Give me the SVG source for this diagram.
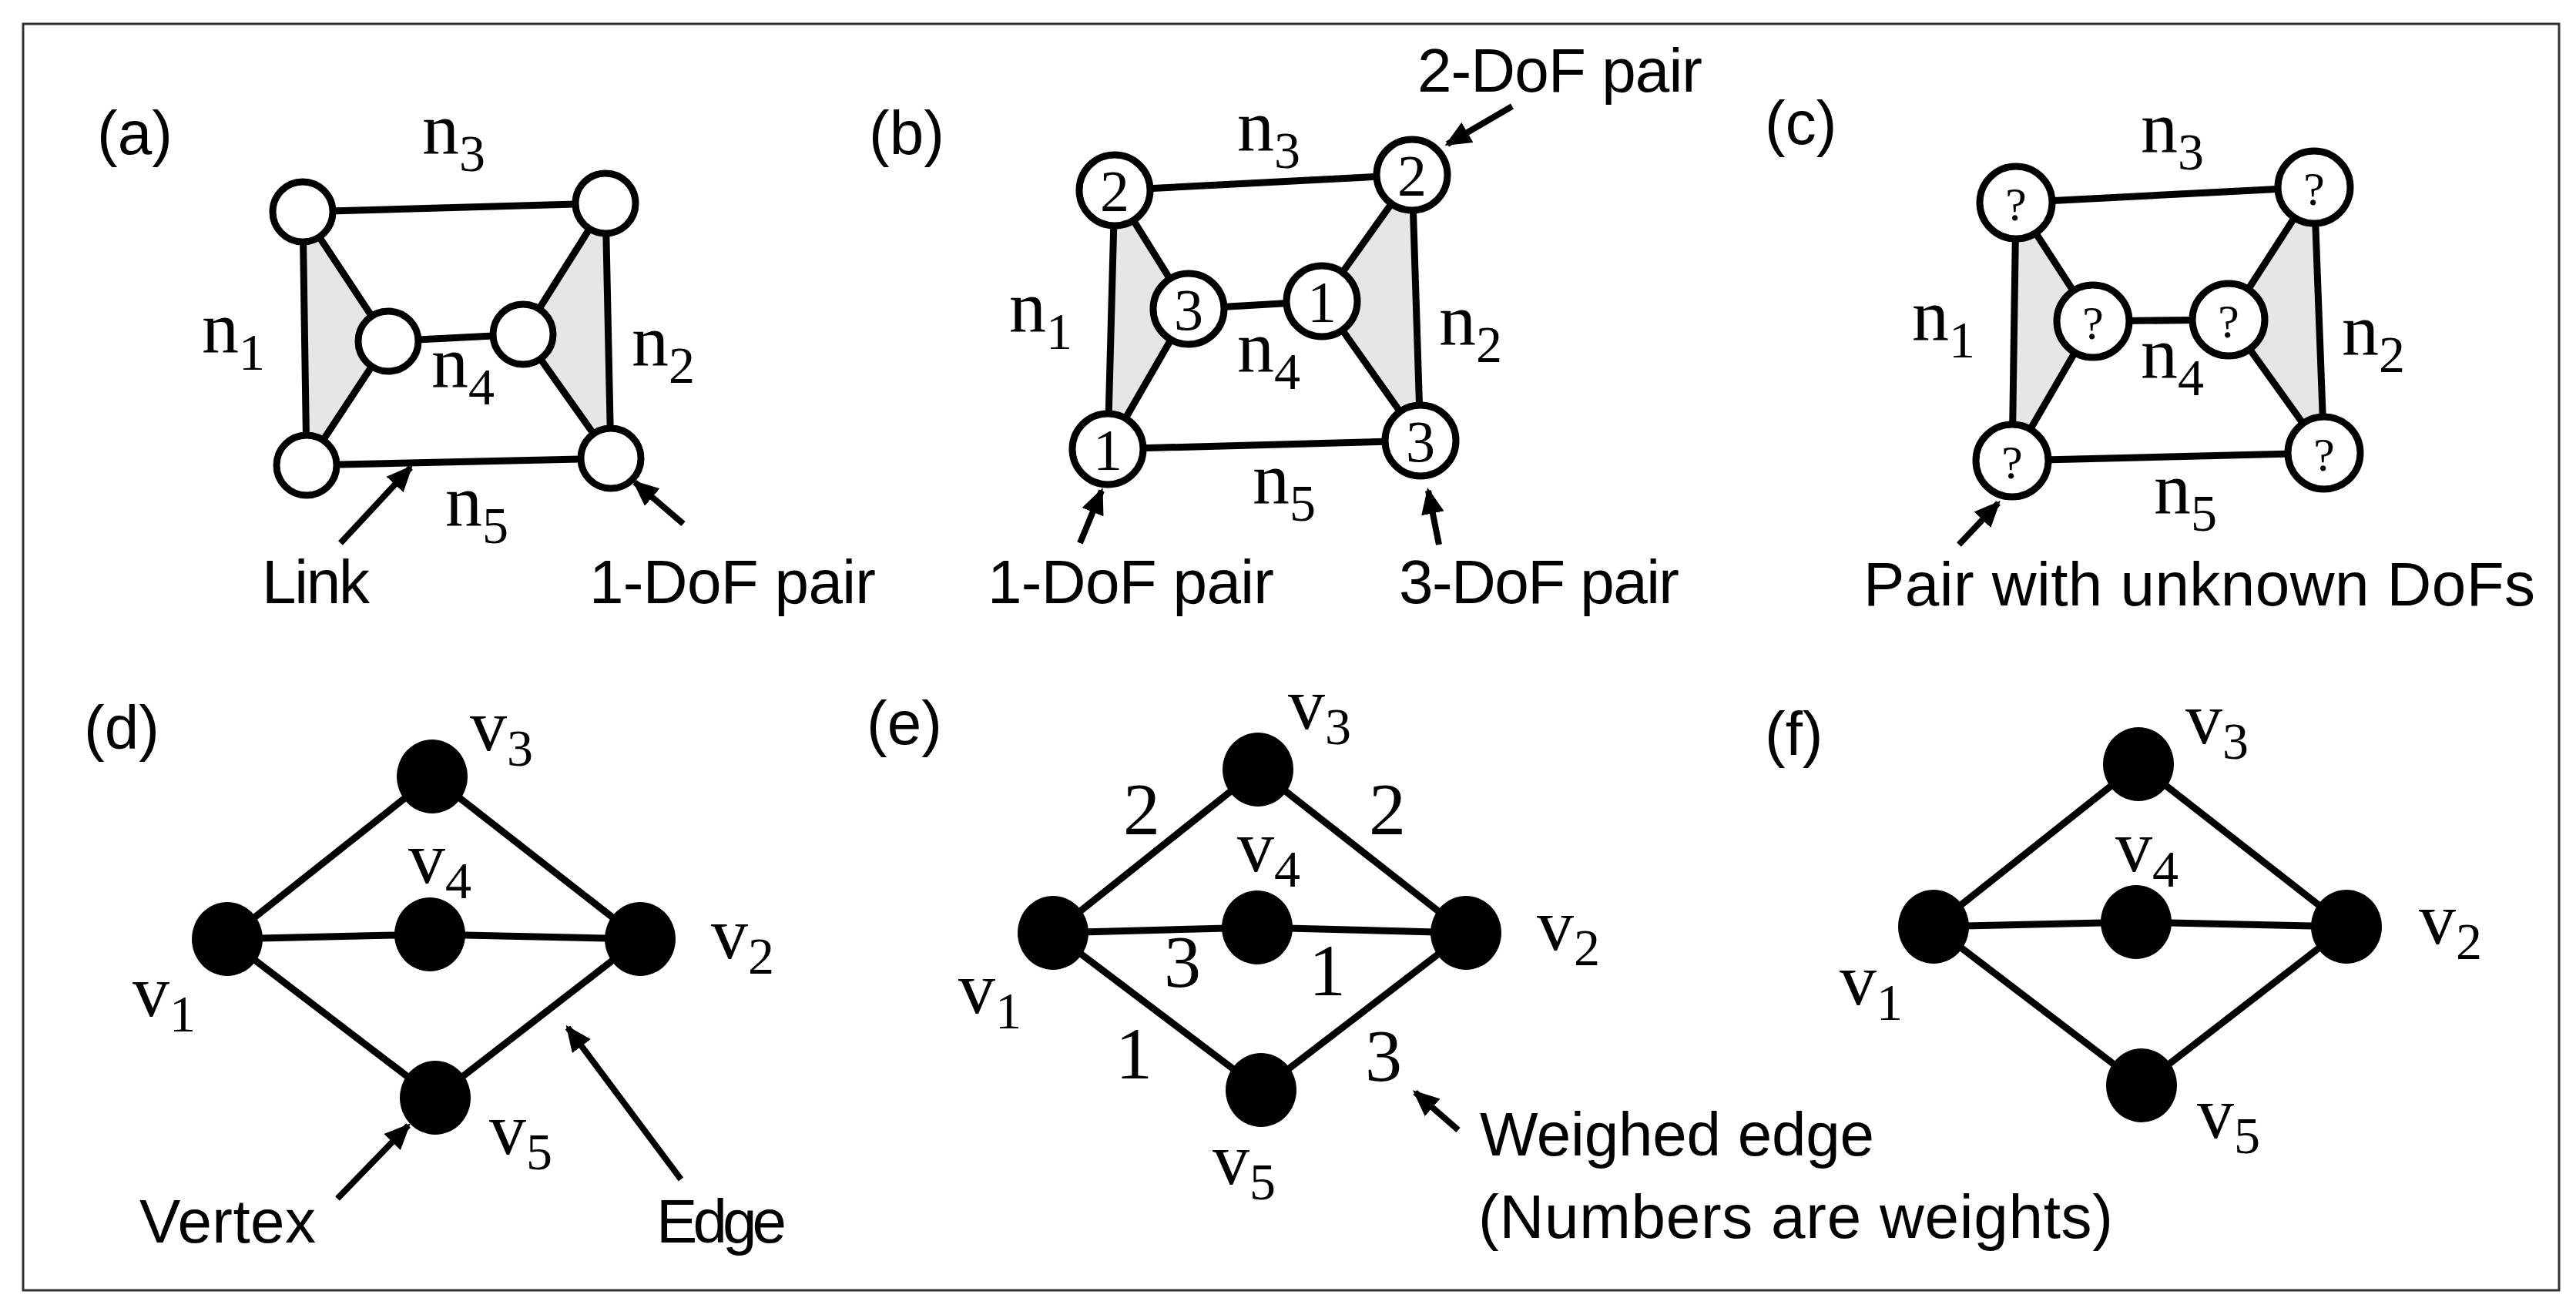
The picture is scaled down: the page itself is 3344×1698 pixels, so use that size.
<svg xmlns="http://www.w3.org/2000/svg" width="3344" height="1698" viewBox="0 0 3344 1698">
<style>
.bg{fill:#fff}
.frame{fill:none;stroke:#333;stroke-width:3}
.ln{stroke:#000;stroke-width:9;fill:none;stroke-linecap:round}
.sh{fill:#e6e6e6;stroke:#000;stroke-width:9;stroke-linejoin:round}
.jn{fill:#fff;stroke:#000;stroke-width:9}
.vx{fill:#000}
.ar{stroke:#000;stroke-width:8;fill:none;marker-end:url(#ah)}
.lab{font-family:"Liberation Sans",Arial,sans-serif;font-size:80px;fill:#000}
.ser{font-family:"Liberation Serif","DejaVu Serif",serif;font-size:96px;fill:#000}
.sub{font-size:68px}
.num{font-family:"Liberation Serif","DejaVu Serif",serif;font-size:76px;fill:#000;text-anchor:middle}
.q{font-size:62px}
.w{font-family:"Liberation Serif","DejaVu Serif",serif;font-size:96px;fill:#000;text-anchor:middle}
</style>
<defs>
<marker id="ah" markerWidth="34" markerHeight="30" refX="30" refY="15" orient="auto" markerUnits="userSpaceOnUse"><path d="M0,0 L34,15 L0,30 Z" fill="#000"/></marker>
</defs>
<rect class="bg" x="0" y="0" width="3344" height="1698"/>
<rect class="frame" x="30" y="31" width="3292" height="1644"/>

<!-- Panel a -->
<g id="panel-a">
<text class="lab" x="126" y="200">(a)</text>
<polygon class="sh" points="393,275 398,604 504,443"/>
<polygon class="sh" points="786,264 793,595 679,434"/>
<line class="ln" x1="393" y1="275" x2="786" y2="264"/>
<line class="ln" x1="398" y1="604" x2="793" y2="595"/>
<line class="ln" x1="504" y1="443" x2="679" y2="434"/>
<g id="a-n1"><circle class="jn" cx="393" cy="275" r="39"/></g>
<g id="a-n2"><circle class="jn" cx="786" cy="264" r="39"/></g>
<g id="a-n3"><circle class="jn" cx="504" cy="443" r="39"/></g>
<g id="a-n4"><circle class="jn" cx="679" cy="434" r="39"/></g>
<g id="a-n5"><circle class="jn" cx="398" cy="604" r="39"/></g>
<g id="a-n6"><circle class="jn" cx="793" cy="595" r="39"/></g>
<text class="ser" x="548" y="200">n<tspan class="sub" dy="22">3</tspan></text>
<text class="ser" x="262" y="458">n<tspan class="sub" dy="22">1</tspan></text>
<text class="ser" x="560" y="503">n<tspan class="sub" dy="22">4</tspan></text>
<text class="ser" x="820" y="475">n<tspan class="sub" dy="22">2</tspan></text>
<text class="ser" x="578" y="683">n<tspan class="sub" dy="22">5</tspan></text>
<text class="lab" x="340" y="783" textLength="140">Link</text>
<text class="lab" x="765" y="783" textLength="372">1-DoF pair</text>
</g>

<!-- Panel b -->
<g id="panel-b">
<text class="lab" x="1128" y="200">(b)</text>
<polygon class="sh" points="1447,247 1438,583 1543,401"/>
<polygon class="sh" points="1833,227 1844,572 1716,391"/>
<line class="ln" x1="1447" y1="247" x2="1833" y2="227"/>
<line class="ln" x1="1438" y1="583" x2="1844" y2="572"/>
<line class="ln" x1="1543" y1="401" x2="1716" y2="391"/>
<g id="b-n1"><circle class="jn" cx="1447" cy="247" r="46"/><text class="num" x="1447" y="274">2</text></g>
<g id="b-n2"><circle class="jn" cx="1833" cy="227" r="46"/><text class="num" x="1833" y="254">2</text></g>
<g id="b-n3"><circle class="jn" cx="1543" cy="401" r="46"/><text class="num" x="1543" y="428">3</text></g>
<g id="b-n4"><circle class="jn" cx="1716" cy="391" r="46"/><text class="num" x="1716" y="418">1</text></g>
<g id="b-n5"><circle class="jn" cx="1438" cy="583" r="46"/><text class="num" x="1438" y="610">1</text></g>
<g id="b-n6"><circle class="jn" cx="1844" cy="572" r="46"/><text class="num" x="1844" y="599">3</text></g>
<text class="ser" x="1606" y="196">n<tspan class="sub" dy="22">3</tspan></text>
<text class="ser" x="1310" y="431">n<tspan class="sub" dy="22">1</tspan></text>
<text class="ser" x="1606" y="483">n<tspan class="sub" dy="22">4</tspan></text>
<text class="ser" x="1868" y="448">n<tspan class="sub" dy="22">2</tspan></text>
<text class="ser" x="1626" y="654">n<tspan class="sub" dy="22">5</tspan></text>
<text class="lab" x="1840" y="119" textLength="370">2-DoF pair</text>
<text class="lab" x="1282" y="783" textLength="372">1-DoF pair</text>
<text class="lab" x="1816" y="783" textLength="364">3-DoF pair</text>
</g>

<!-- Panel c -->
<g id="panel-c">
<text class="lab" x="2291" y="187">(c)</text>
<polygon class="sh" points="2617,263 2612,598 2717,417"/>
<polygon class="sh" points="3004,243 3017,588 2893,415"/>
<line class="ln" x1="2617" y1="263" x2="3004" y2="243"/>
<line class="ln" x1="2612" y1="598" x2="3017" y2="588"/>
<line class="ln" x1="2717" y1="417" x2="2893" y2="415"/>
<g id="c-n1"><circle class="jn" cx="2617" cy="263" r="47"/><text class="num q" x="2617" y="286">?</text></g>
<g id="c-n2"><circle class="jn" cx="3004" cy="243" r="47"/><text class="num q" x="3004" y="266">?</text></g>
<g id="c-n3"><circle class="jn" cx="2717" cy="417" r="47"/><text class="num q" x="2717" y="440">?</text></g>
<g id="c-n4"><circle class="jn" cx="2893" cy="415" r="47"/><text class="num q" x="2893" y="438">?</text></g>
<g id="c-n5"><circle class="jn" cx="2612" cy="598" r="47"/><text class="num q" x="2612" y="621">?</text></g>
<g id="c-n6"><circle class="jn" cx="3017" cy="588" r="47"/><text class="num q" x="3017" y="611">?</text></g>
<text class="ser" x="2779" y="198">n<tspan class="sub" dy="22">3</tspan></text>
<text class="ser" x="2482" y="442">n<tspan class="sub" dy="22">1</tspan></text>
<text class="ser" x="2779" y="491">n<tspan class="sub" dy="22">4</tspan></text>
<text class="ser" x="3040" y="461">n<tspan class="sub" dy="22">2</tspan></text>
<text class="ser" x="2796" y="667">n<tspan class="sub" dy="22">5</tspan></text>
<text class="lab" x="2419" y="786" textLength="872">Pair with unknown DoFs</text>
</g>

<!-- Panel d -->
<g id="panel-d">
<text class="lab" x="109" y="972">(d)</text>
<line class="ln" x1="295" y1="1219" x2="561" y2="1008"/>
<line class="ln" x1="561" y1="1008" x2="831" y2="1219"/>
<line class="ln" x1="295" y1="1219" x2="558" y2="1213"/>
<line class="ln" x1="558" y1="1213" x2="831" y2="1219"/>
<line class="ln" x1="295" y1="1219" x2="565" y2="1425"/>
<line class="ln" x1="565" y1="1425" x2="831" y2="1219"/>
<g id="d-v1"><ellipse class="vx" cx="295" cy="1219" rx="46" ry="48"/></g>
<g id="d-v2"><ellipse class="vx" cx="831" cy="1219" rx="46" ry="48"/></g>
<g id="d-v3"><ellipse class="vx" cx="561" cy="1008" rx="46" ry="48"/></g>
<g id="d-v4"><ellipse class="vx" cx="558" cy="1213" rx="46" ry="48"/></g>
<g id="d-v5"><ellipse class="vx" cx="565" cy="1425" rx="46" ry="48"/></g>
<text class="ser" x="610" y="974">v<tspan class="sub" dy="20">3</tspan></text>
<text class="ser" x="530" y="1146">v<tspan class="sub" dy="20">4</tspan></text>
<text class="ser" x="172" y="1319">v<tspan class="sub" dy="20">1</tspan></text>
<text class="ser" x="923" y="1244">v<tspan class="sub" dy="20">2</tspan></text>
<text class="ser" x="635" y="1498">v<tspan class="sub" dy="20">5</tspan></text>
<text class="lab" x="181" y="1613" textLength="229">Vertex</text>
<text class="lab" x="852" y="1613" textLength="169">Edge</text>
</g>

<!-- Panel e -->
<g id="panel-e">
<text class="lab" x="1125" y="966">(e)</text>
<line class="ln" x1="1367" y1="1211" x2="1633" y2="999"/>
<line class="ln" x1="1633" y1="999" x2="1903" y2="1211"/>
<line class="ln" x1="1367" y1="1211" x2="1632" y2="1204"/>
<line class="ln" x1="1632" y1="1204" x2="1903" y2="1211"/>
<line class="ln" x1="1367" y1="1211" x2="1637" y2="1415"/>
<line class="ln" x1="1637" y1="1415" x2="1903" y2="1211"/>
<g id="e-v1"><ellipse class="vx" cx="1367" cy="1211" rx="46" ry="48"/></g>
<g id="e-v2"><ellipse class="vx" cx="1903" cy="1211" rx="46" ry="48"/></g>
<g id="e-v3"><ellipse class="vx" cx="1633" cy="999" rx="46" ry="48"/></g>
<g id="e-v4"><ellipse class="vx" cx="1632" cy="1204" rx="46" ry="48"/></g>
<g id="e-v5"><ellipse class="vx" cx="1637" cy="1415" rx="46" ry="48"/></g>
<text class="ser" x="1672" y="946">v<tspan class="sub" dy="20">3</tspan></text>
<text class="ser" x="1606" y="1131">v<tspan class="sub" dy="20">4</tspan></text>
<text class="ser" x="1244" y="1315">v<tspan class="sub" dy="20">1</tspan></text>
<text class="ser" x="1995" y="1233">v<tspan class="sub" dy="20">2</tspan></text>
<text class="ser" x="1574" y="1537">v<tspan class="sub" dy="20">5</tspan></text>
<text class="w" x="1482" y="1083">2</text>
<text class="w" x="1801" y="1083">2</text>
<text class="w" x="1535" y="1281">3</text>
<text class="w" x="1723" y="1292">1</text>
<text class="w" x="1472" y="1400">1</text>
<text class="w" x="1796" y="1403">3</text>
<text class="lab" x="1921" y="1500" textLength="512">Weighed edge</text>
<text class="lab" x="1919" y="1607" textLength="824">(Numbers are weights)</text>
</g>

<!-- Panel f -->
<g id="panel-f">
<text class="lab" x="2291" y="980">(f)</text>
<line class="ln" x1="2510" y1="1203" x2="2776" y2="992"/>
<line class="ln" x1="2776" y1="992" x2="3046" y2="1203"/>
<line class="ln" x1="2510" y1="1203" x2="2773" y2="1197"/>
<line class="ln" x1="2773" y1="1197" x2="3046" y2="1203"/>
<line class="ln" x1="2510" y1="1203" x2="2780" y2="1409"/>
<line class="ln" x1="2780" y1="1409" x2="3046" y2="1203"/>
<g id="f-v1"><ellipse class="vx" cx="2510" cy="1203" rx="46" ry="48"/></g>
<g id="f-v2"><ellipse class="vx" cx="3046" cy="1203" rx="46" ry="48"/></g>
<g id="f-v3"><ellipse class="vx" cx="2776" cy="992" rx="46" ry="48"/></g>
<g id="f-v4"><ellipse class="vx" cx="2773" cy="1197" rx="46" ry="48"/></g>
<g id="f-v5"><ellipse class="vx" cx="2780" cy="1409" rx="46" ry="48"/></g>
<text class="ser" x="2837" y="965">v<tspan class="sub" dy="20">3</tspan></text>
<text class="ser" x="2746" y="1131">v<tspan class="sub" dy="20">4</tspan></text>
<text class="ser" x="2388" y="1304">v<tspan class="sub" dy="20">1</tspan></text>
<text class="ser" x="3140" y="1225">v<tspan class="sub" dy="20">2</tspan></text>
<text class="ser" x="2852" y="1477">v<tspan class="sub" dy="20">5</tspan></text>
</g>

<!-- Connectors (annotation arrows) -->
<g id="connectors">
<line class="ar" x1="442" y1="705" x2="533" y2="607"/>
<line class="ar" x1="887" y1="680" x2="824" y2="626"/>
<line class="ar" x1="1963" y1="138" x2="1879" y2="187"/>
<line class="ar" x1="1402" y1="705" x2="1430" y2="637"/>
<line class="ar" x1="1868" y1="707" x2="1854" y2="637"/>
<line class="ar" x1="2543" y1="707" x2="2594" y2="653"/>
<line class="ar" x1="438" y1="1556" x2="530" y2="1461"/>
<line class="ar" x1="884" y1="1531" x2="737" y2="1334"/>
<line class="ar" x1="1893" y1="1467" x2="1837" y2="1418"/>
</g>
</svg>
